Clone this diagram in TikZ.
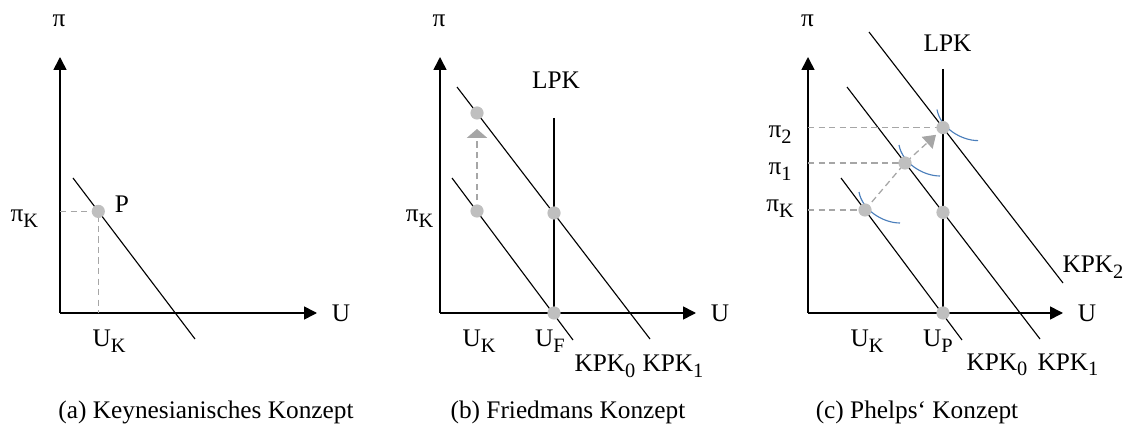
\documentclass[tikz,border=0pt]{standalone}
\usepackage{fontspec}
\setmainfont{Liberation Serif}
\usetikzlibrary{arrows.meta}
\definecolor{punktgrau}{HTML}{BFBFBF}
\definecolor{hilfsgrau}{HTML}{A6A6A6}
\definecolor{bogenblau}{HTML}{4A7EBB}
\newcommand{\tiefst}[1]{\raisebox{-4pt}{\fontsize{14.5}{14.5}\selectfont #1}}

\begin{document}
\begin{tikzpicture}[every node/.style={font=\fontsize{18}{21}\selectfont, inner sep=0pt},
	achse/.style={line width=1.1pt, -{Triangle[length=0.32cm,width=0.32cm]}},
	kurve/.style={line width=0.8pt},
	hilfslinie/.style={hilfsgrau, line width=0.9pt, dash pattern=on 4.5pt off 3pt},
	punkt/.style={circle, fill=punktgrau, minimum size=0.33cm},
	bogen/.style={bogenblau, line width=0.8pt},
	beschriftung/.style={anchor=base}]
	\useasboundingbox (0,0) rectangle (28.2,10.65);
	% (a) Keynesianisches Konzept
	\coordinate (a-O) at (1.5,2.825);
	\coordinate (a-Y) at (1.5,9.225);
	\coordinate (a-X) at (7.925,2.825);
	\coordinate (a-k1) at (1.825,6.2);
	\coordinate (a-k2) at (4.875,2.175);
	\coordinate (a-P) at (2.458,5.365);
	\draw[achse] (a-O) -- (a-Y);
	\draw[achse] (a-O) -- (a-X);
	\draw[kurve] (a-k1) -- (a-k2);
	\draw[hilfslinie] (a-P -| a-O) -- (a-P) -- (a-P |- a-O);
	\node[punkt] (a-P-dot) at (a-P) {};
	\node[beschriftung] (a-pi) at (1.475,9.975) {π};
	\node[beschriftung] (a-U) at (8.525,2.6) {U};
	\node[beschriftung] (a-Plbl) at (3.05,5.325) {P};
	\node[beschriftung] (a-piK) at (0.61,5.1) {π\tiefst{K}};
	\node[beschriftung] (a-UK) at (2.725,1.975) {U\tiefst{K}};
	\node[beschriftung] (a-titel) at (5.15,0.175) {(a) Keynesianisches Konzept};
	% (b) Friedmans Konzept
	\coordinate (b-O) at (11.0,2.825);
	\coordinate (b-Y) at (11.0,9.225);
	\coordinate (b-X) at (17.4,2.825);
	\coordinate (b-L) at (13.85,7.7);
	\coordinate (b-k01) at (11.3,6.2);
	\coordinate (b-k02) at (14.325,2.15);
	\coordinate (b-k11) at (11.425,8.475);
	\coordinate (b-k12) at (16.25,2.175);
	\coordinate (b-A) at (11.925,5.375);
	\coordinate (b-B) at (11.925,7.825);
	\coordinate (b-C) at (13.85,5.325);
	\coordinate (b-D) at (13.85,2.825);
	\coordinate (b-spitze) at (11.925,7.425);
	\draw[achse] (b-O) -- (b-Y);
	\draw[achse] (b-O) -- (b-X);
	\draw[kurve] (b-L) -- (b-D);
	\draw[kurve] (b-k01) -- (b-k02);
	\draw[kurve] (b-k11) -- (b-k12);
	\draw[hilfslinie, -{Triangle[length=0.22cm,width=0.5cm]}] (b-A) -- (b-spitze);
	\foreach \p in {b-A,b-B,b-C,b-D}
		\node[punkt] (\p-dot) at (\p) {};
	\node[beschriftung] (b-pi) at (10.975,9.975) {π};
	\node[beschriftung] (b-U) at (18.0,2.6) {U};
	\node[beschriftung] (b-LPK) at (13.9,8.425) {LPK};
	\node[beschriftung] (b-piK) at (10.49,5.1) {π\tiefst{K}};
	\node[beschriftung] (b-UK) at (11.975,1.975) {U\tiefst{K}};
	\node[beschriftung] (b-UF) at (13.75,1.975) {U\tiefst{F}};
	\node[beschriftung] (b-KPK0) at (15.125,1.35) {KPK\tiefst{0}};
	\node[beschriftung] (b-KPK1) at (16.825,1.35) {KPK\tiefst{1}};
	\node[beschriftung] (b-titel) at (14.2,0.175) {(b) Friedmans Konzept};
	% (c) Phelps' Konzept
	\coordinate (c-O) at (20.2,2.825);
	\coordinate (c-Y) at (20.2,9.225);
	\coordinate (c-X) at (26.575,2.825);
	\coordinate (c-L) at (23.575,8.925);
	\coordinate (c-k01) at (21.025,6.2);
	\coordinate (c-k02) at (24.05,2.15);
	\coordinate (c-k11) at (21.175,8.475);
	\coordinate (c-k12) at (26.0,2.175);
	\coordinate (c-k21) at (21.725,9.85);
	\coordinate (c-k22) at (26.575,3.575);
	\coordinate (c-P0) at (21.625,5.4);
	\coordinate (c-P1) at (22.625,6.575);
	\coordinate (c-P2) at (23.575,7.46);
	\coordinate (c-Q) at (23.575,5.34);
	\coordinate (c-R) at (23.575,2.825);
	\coordinate (c-spitze) at (23.4,7.28);
	\draw[achse] (c-O) -- (c-Y);
	\draw[achse] (c-O) -- (c-X);
	\draw[kurve] (c-L) -- (c-R);
	\draw[kurve] (c-k01) -- (c-k02);
	\draw[kurve] (c-k11) -- (c-k12);
	\draw[kurve] (c-k21) -- (c-k22);
	\foreach \p in {c-P0,c-P1,c-P2}
		\draw[hilfslinie] (\p -| c-O) -- (\p);
	\draw[hilfslinie, -{Triangle[length=0.3cm,width=0.4cm]}] (c-P0) -- (c-P1) -- (c-spitze);
	\foreach \p in {c-P0,c-P1,c-P2}
		\draw[bogen] ([shift={(-0.15,0.45)}]\p) .. controls ([shift={(-0.07,0)}]\p) and ([shift={(0.45,-0.325)}]\p) .. ([shift={(0.875,-0.325)}]\p);
	\foreach \p in {c-P0,c-P1,c-P2,c-Q,c-R}
		\node[punkt] (\p-dot) at (\p) {};
	\node[beschriftung] (c-pi) at (20.19,9.975) {π};
	\node[beschriftung] (c-U) at (27.175,2.6) {U};
	\node[beschriftung] (c-LPK) at (23.69,9.35) {LPK};
	\node[beschriftung] (c-pi2) at (19.5,7.2) {π\tiefst{2}};
	\node[beschriftung] (c-pi1) at (19.5,6.275) {π\tiefst{1}};
	\node[beschriftung] (c-piK) at (19.5,5.35) {π\tiefst{K}};
	\node[beschriftung] (c-UK) at (21.675,1.975) {U\tiefst{K}};
	\node[beschriftung] (c-UP) at (23.45,1.975) {U\tiefst{P}};
	\node[beschriftung] (c-KPK0) at (24.925,1.4) {KPK\tiefst{0}};
	\node[beschriftung] (c-KPK1) at (26.7,1.4) {KPK\tiefst{1}};
	\node[beschriftung] (c-KPK2) at (27.325,3.825) {KPK\tiefst{2}};
	\node[beschriftung] (c-titel) at (22.925,0.175) {(c) Phelps‘ Konzept};
\end{tikzpicture}
\end{document}
